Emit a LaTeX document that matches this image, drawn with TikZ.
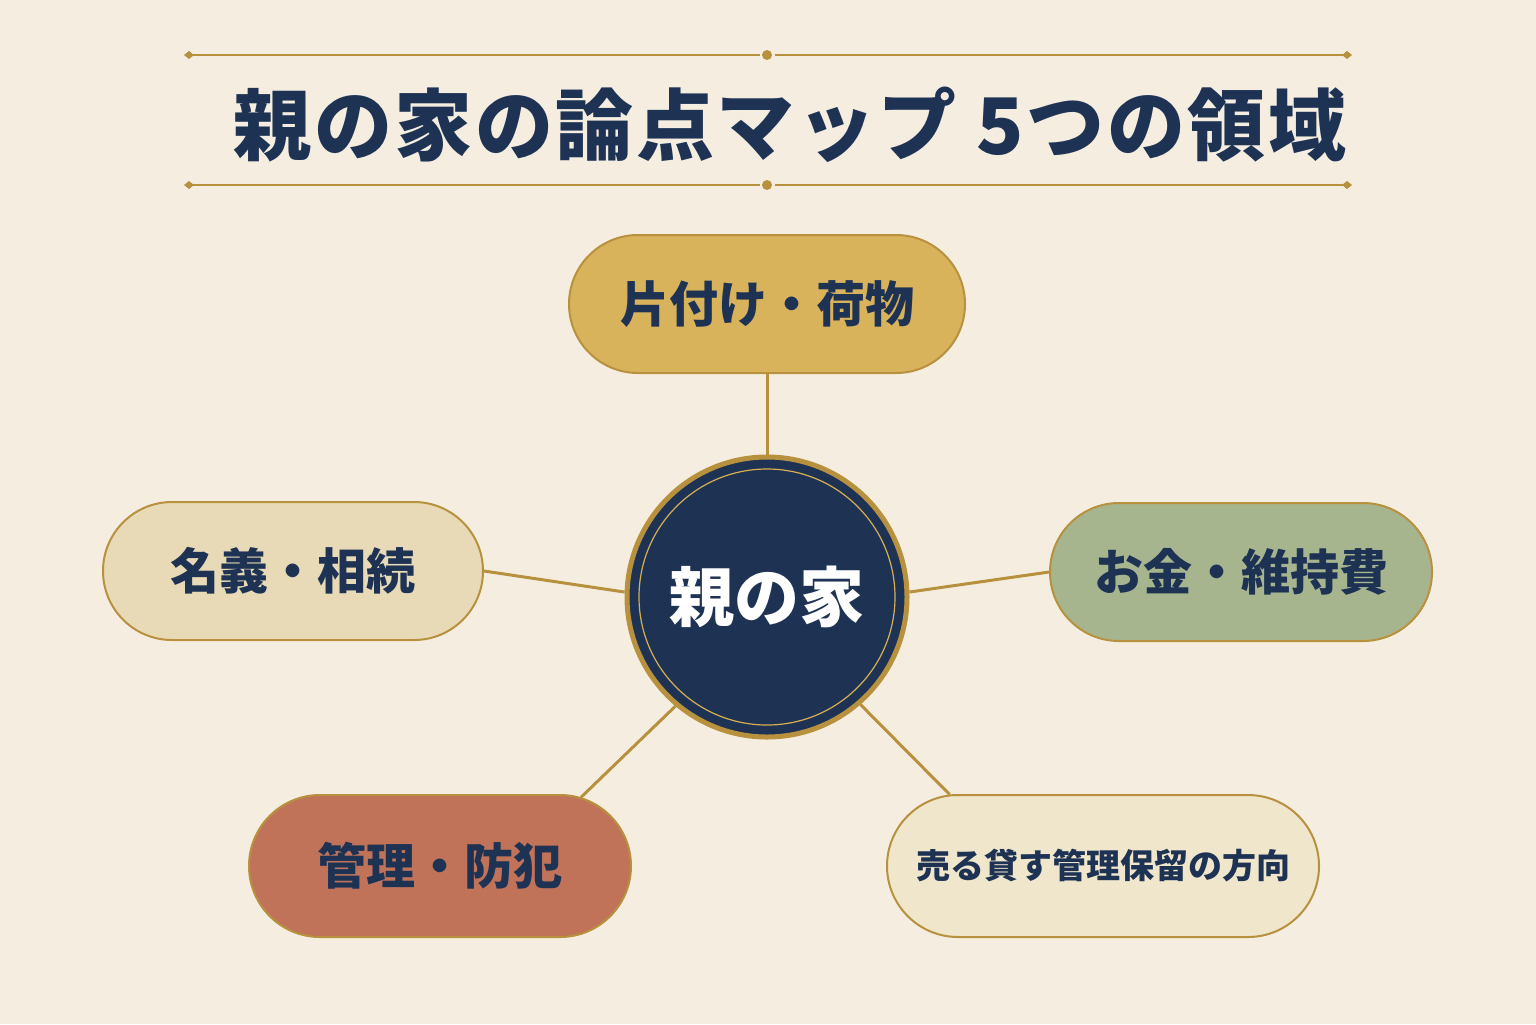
\documentclass[tikz,border=0pt]{standalone}
\usepackage{fontspec}
\setmainfont{Noto Sans CJK JP}
\usepackage{tikz}
\usetikzlibrary{positioning,shapes.misc}
\definecolor{bgc}{HTML}{F5EEE0}
\definecolor{navy}{HTML}{1E3354}
\definecolor{gold}{HTML}{B8913F}
\definecolor{goldlt}{HTML}{D8AE52}
\definecolor{fmust}{HTML}{D8B35B}
\definecolor{fsand}{HTML}{E9DAB7}
\definecolor{fsage}{HTML}{A7B58F}
\definecolor{fterra}{HTML}{C1735A}
\definecolor{fcream}{HTML}{F0E6CC}
\tikzset{
  pill/.style={rounded rectangle,draw=gold,line width=1pt,minimum height=69pt,
    inner sep=0pt,text=navy,font=\bfseries\fontsize{24.5}{28}\selectfont},
  link/.style={gold,line width=1.5pt},
  hub/.style={circle,fill=navy,draw=gold,line width=2.5pt,minimum size=140pt,
    text=white,font=\bfseries\fontsize{32.5}{36}\selectfont},
  rule/.style={gold,line width=0.9pt},
  tip/.style={fill=gold,draw=none},
}

\begin{document}
\begin{tikzpicture}[x=0.5pt,y=-0.5pt]
  % background
  \fill[bgc] (0,0) rectangle (1536,1024);
  % title with rules
  \foreach \y in {55,185}{
    \draw[rule] (187,\y) -- (760,\y);
    \draw[rule] (775,\y) -- (1349,\y);
    \fill[gold] (767,\y) circle (5);
    \fill[tip] (184,\y) -- (189,\y-4) -- (194,\y) -- (189,\y+4) -- cycle;
    \fill[tip] (1342,\y) -- (1347,\y-4) -- (1352,\y) -- (1347,\y+4) -- cycle;
  }
  \node[text=navy,font=\bfseries\fontsize{39}{44}\selectfont\addfontfeature{LetterSpace=3.3}]
    (title) at (790,125) {親の家の論点マップ 5つの領域};
  % hub
  \node[hub] (hub) at (767,597) {親の家};
  \draw[goldlt,line width=0.6pt] (hub.center) circle (128);
  % five areas
  \node[pill,fill=fmust,minimum width=198pt] (tidy) at (767,304) {片付け・荷物};
  \node[pill,fill=fsand,minimum width=190pt] (title2) at (293,571) {名義・相続};
  \node[pill,fill=fsage,minimum width=191pt] (money) at (1241,572) {お金・維持費};
  \node[pill,fill=fterra,minimum width=191pt,minimum height=71pt] (guard) at (440,866) {管理・防犯};
  \node[pill,fill=fcream,minimum width=216pt,minimum height=71pt,
    font=\bfseries\fontsize{17}{20}\selectfont] (plan) at (1103,866) {売る貸す管理保留の方向};
  % spokes
  \draw[link] (tidy.south) -- (hub.north);
  \draw[link] (title2.east) -- (hub.178);
  \draw[link] (hub.2) -- (money.west);
  \draw[link] (hub.230) -- (guard.26);
  \draw[link] (hub.311) -- (plan.155);
\end{tikzpicture}
\end{document}
